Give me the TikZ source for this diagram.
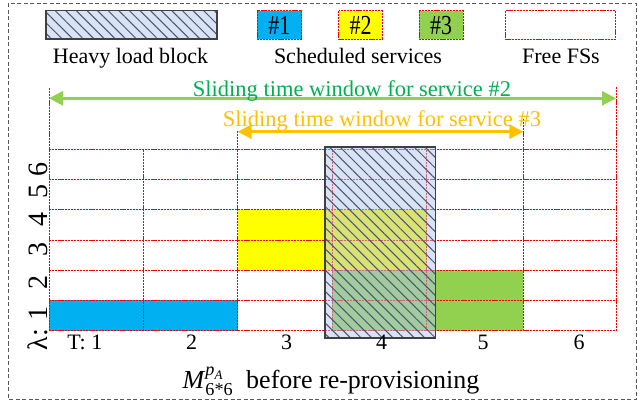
\documentclass[tikz,border=0pt]{standalone}
\usepackage{fontspec}
\usepackage{amsmath}
\setmainfont{Liberation Serif}
\usetikzlibrary{patterns.meta,arrows.meta}
\definecolor{cblue}{RGB}{0,176,240}
\definecolor{cyellow}{RGB}{255,255,0}
\definecolor{cgreen}{RGB}{146,208,80}
\definecolor{tgreen}{RGB}{0,176,80}
\definecolor{corange}{RGB}{255,192,0}
\definecolor{hfill}{RGB}{180,199,231}
\definecolor{hline}{RGB}{68,84,120}
\definecolor{hborder}{RGB}{64,64,64}
\definecolor{gridred}{RGB}{240,0,0}
\begin{document}
\begin{tikzpicture}[x=1pt,y=-1pt,
  gridline/.style={draw=gridred, line width=0.9pt, dash pattern=on 2.2pt off 0.9pt},
  hatchfill/.style={fill=hfill, fill opacity=0.5},
  hatchlines/.style={pattern={Lines[angle=-45,distance=7.5pt,line width=1pt]}, pattern color=hline},
  legbox/.style={gridline, line width=0.7pt},
  legtext/.style={font=\fontsize{22}{26}\selectfont, anchor=base, inner sep=0pt},
  boxtext/.style={font=\fontsize{22}{26}\selectfont, inner sep=0pt},
  slidetext/.style={font=\fontsize{22.5}{27}\selectfont, anchor=base, inner sep=0pt},
  tlabel/.style={font=\fontsize{22}{26}\selectfont, anchor=base, inner sep=0pt},
  llabel/.style={font=\fontsize{28}{32}\selectfont, anchor=base, rotate=90, inner sep=0pt},
  winarrow/.style={line width=2.7pt, {Triangle[length=14pt,width=14pt]}-{Triangle[length=14pt,width=14pt]}}
]
\useasboundingbox (0,0) rectangle (638,401);
% outer dashed frame
\draw[draw=black!65, line width=0.8pt, dash pattern=on 4pt off 2.5pt] (8.5,3.5) rectangle (636.5,399);

% ---------- legend ----------
\path[hatchfill] (46,10.7) rectangle (217,39);
\path[hatchlines, fill opacity=0.75] (46,10.7) rectangle (217,39);
\draw[hborder, line width=1.5pt] (46,10.7) rectangle (217,39);
\node[legtext] (lheavy) at (130.5,63.3) {Heavy load block};

\fill[cblue] (257,10.7) rectangle (301.7,39);
\draw[legbox] (257,10.7) rectangle (301.7,39);
\node[boxtext] (l1) at (279.3,25.5) {\scalebox{1}[1.25]{\#1}};
\fill[cyellow] (338.7,10.7) rectangle (382.3,39);
\draw[legbox] (338.7,10.7) rectangle (382.3,39);
\node[boxtext] (l2) at (360.5,25.5) {\scalebox{1}[1.25]{\#2}};
\fill[cgreen] (419,10.7) rectangle (463,39);
\draw[legbox] (419,10.7) rectangle (463,39);
\node[boxtext] (l3) at (441,25.5) {\scalebox{1}[1.25]{\#3}};
\node[legtext] (lsched) at (358,63.3) {Scheduled services};

\draw[legbox] (505.7,10.7) rectangle (615.7,39);
\node[legtext] (lfree) at (561,63.3) {Free FSs};

% ---------- occupied slots ----------
\fill[cblue] (49,300.3) rectangle (237.7,330.5);
\fill[cyellow] (237.7,209.8) rectangle (426.7,270.2);
\fill[cgreen] (332.3,270.2) rectangle (523.3,330.5);

% ---------- grid ----------
\foreach \yy in {149.6,179.7,209.8,240,270.2,300.3,330.5}
  \draw[gridline] (49,\yy) -- (616,\yy);
\foreach \xx in {49,143.3,237.7,332.3,426.7,523.3,616}
  \draw[gridline] (\xx,149.6) -- (\xx,330.5);
% window extenders
\draw[gridline] (49,88) -- (49,149.6);
\draw[gridline] (616,87) -- (616,149.6);
\draw[gridline] (237.7,130.7) -- (237.7,149.6);
\draw[gridline] (523.3,119) -- (523.3,149.6);

% ---------- heavy load block ----------
\path[hatchfill] (325,146.7) rectangle (435.5,337.7);
\path[hatchlines, fill opacity=0.7] (325,146.7) rectangle (435.5,337.7);
\draw[hborder, line width=1.8pt] (325,146.7) rectangle (435.5,337.7);

% ---------- sliding windows ----------
\coordinate (gL) at (49,98.3);
\coordinate (gR) at (616,98.3);
\draw[winarrow, draw=cgreen, fill=cgreen] (gL) -- (gR);
\node[slidetext, text=tgreen] (t2) at (352,96.3) {Sliding time window for service \#2};
\coordinate (oL) at (237.7,131.7);
\coordinate (oR) at (523.3,131.7);
\draw[winarrow, draw=corange, fill=corange] (oL) -- (oR);
\node[slidetext, text=corange] (t3) at (382,126.5) {Sliding time window for service \#3};

% ---------- axis labels ----------
\node[tlabel, anchor=base east] (T1) at (102.5,349.3) {T: 1};
\node[tlabel] (T2) at (191.7,349.3) {2};
\node[tlabel] (T3) at (286.7,349.3) {3};
\node[tlabel] (T4) at (381.7,349.3) {4};
\node[tlabel] (T5) at (483,349.3) {5};
\node[tlabel] (T6) at (579,349.3) {6};

\node[llabel] (Lam) at (47.5,339.5) {λ:};
\node[llabel] (L1) at (47.5,313.5) {1};
\node[llabel] (L2) at (47.5,282) {2};
\node[llabel] (L3) at (47.5,250) {3};
\node[llabel] (L4) at (47.5,219) {4};
\node[llabel] (L5) at (47.5,192) {5};
\node[llabel] (L6) at (47.5,169.5) {6};

% ---------- caption ----------
\node[font=\fontsize{26}{30}\selectfont, anchor=base, inner sep=0pt] (cap) at (331,388.3)
  {\textit{M}$^{\textit{p}_{\textit{A}}}_{\text{6*6}}$\ \ before re-provisioning};
\end{tikzpicture}
\end{document}
